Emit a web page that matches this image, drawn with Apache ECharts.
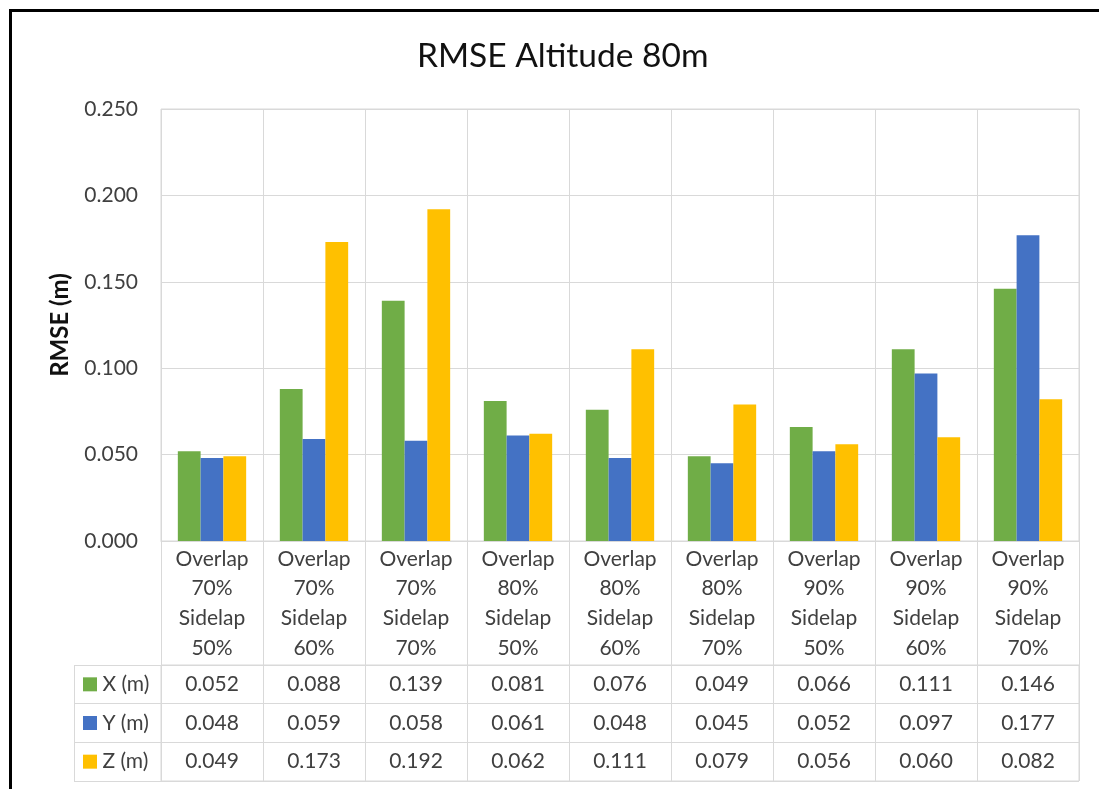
<!DOCTYPE html>
<html>
<head>
<meta charset="utf-8">
<script src="https://cdn.jsdelivr.net/npm/echarts@6/dist/echarts.min.js"></script>
<style>
html,body{margin:0;padding:0;background:#fff;}
#chart{width:1099px;height:789px;}
</style>
</head>
<body>
<div id="chart"></div>
<script>
const categories = [
  'Overlap\n70%\nSidelap\n50%', 'Overlap\n70%\nSidelap\n60%', 'Overlap\n70%\nSidelap\n70%',
  'Overlap\n80%\nSidelap\n50%', 'Overlap\n80%\nSidelap\n60%', 'Overlap\n80%\nSidelap\n70%',
  'Overlap\n90%\nSidelap\n50%', 'Overlap\n90%\nSidelap\n60%', 'Overlap\n90%\nSidelap\n70%'
];
const seriesNames = ['X (m)', 'Y (m)', 'Z (m)'];
const xValues = [0.052, 0.088, 0.139, 0.081, 0.076, 0.049, 0.066, 0.111, 0.146];
const yValues = [0.048, 0.059, 0.058, 0.061, 0.048, 0.045, 0.052, 0.097, 0.177];
const zValues = [0.049, 0.173, 0.192, 0.062, 0.111, 0.079, 0.056, 0.060, 0.082];
const colors = ['#70AD47', '#4472C4', '#FFC000'];
const allValues = [xValues, yValues, zValues];

const FONT = 'Lato';
const GRIDC = '#d9d9d9';
const TXT = '#404040';

const tableData = [];
allValues.forEach((arr, r) => arr.forEach((v, i) => tableData.push([i, r, v])));

const chart = echarts.init(document.getElementById('chart'), null, {renderer: 'canvas'});
chart.setOption({
  backgroundColor: '#fff',
  animation: false,
  title: {
    text: 'RMSE Altitude 80m', left: 412, top: 34,
    textStyle: {fontFamily: FONT, fontSize: 33.5, fontWeight: 'normal', color: '#111'}
  },
  graphic: [
    {type: 'rect', shape: {x: 10.5, y: 10.5, width: 1100, height: 800}, style: {fill: 'none', stroke: '#000', lineWidth: 3}, z: 100},
    {type: 'rect', shape: {x: 74.5, y: 665.5, width: 87, height: 116}, style: {fill: 'none', stroke: GRIDC, lineWidth: 1}, z: 1}
  ],
  grid: [
    {left: 161, top: 109, width: 918, height: 432, show: true, borderColor: GRIDC, borderWidth: 1},
    {left: 161, top: 665, width: 918, height: 116, show: true, borderColor: GRIDC, borderWidth: 1}
  ],
  xAxis: [
    {
      type: 'category', gridIndex: 0, data: categories, boundaryGap: true,
      axisLine: {show: true, lineStyle: {color: GRIDC}},
      axisTick: {show: true, interval: 0, length: 124, lineStyle: {color: GRIDC}},
      splitLine: {show: true, interval: 0, lineStyle: {color: GRIDC}},
      axisLabel: {interval: 0, margin: 3, fontFamily: FONT, fontSize: 21, color: TXT, lineHeight: 29.7}
    },
    {
      type: 'category', gridIndex: 1, data: categories, boundaryGap: true,
      axisLine: {show: false}, axisTick: {show: false}, axisLabel: {show: false},
      splitLine: {show: true, interval: 0, lineStyle: {color: GRIDC}}
    }
  ],
  yAxis: [
    {
      type: 'value', gridIndex: 0, min: 0, max: 0.25, interval: 0.05,
      name: 'RMSE (m)', nameLocation: 'middle', nameGap: 89,
      nameTextStyle: {fontFamily: FONT, fontSize: 24, fontWeight: 'bold', color: '#111'},
      axisLine: {show: false}, axisTick: {show: false},
      splitLine: {lineStyle: {color: GRIDC}},
      axisLabel: {margin: 23, fontFamily: FONT, fontSize: 21, color: TXT, formatter: v => v.toFixed(3)}
    },
    {
      type: 'category', gridIndex: 1, data: seriesNames, inverse: true, boundaryGap: true,
      axisLine: {show: false},
      axisTick: {show: true, interval: 0, length: 87, lineStyle: {color: GRIDC}},
      splitLine: {show: true, interval: 0, lineStyle: {color: GRIDC}},
      axisLabel: {
        margin: 78, align: 'left', fontFamily: FONT, fontSize: 21, color: TXT,
        formatter: (v, i) => '{k' + i + '|}' + ' ' + v,
        rich: {
          k0: {backgroundColor: colors[0], width: 14, height: 14},
          k1: {backgroundColor: colors[1], width: 14, height: 14},
          k2: {backgroundColor: colors[2], width: 14, height: 14}
        }
      }
    }
  ],
  series: [
    ...allValues.map((arr, k) => ({
      name: seriesNames[k], type: 'bar', xAxisIndex: 0, yAxisIndex: 0, data: arr,
      barGap: '0%', barCategoryGap: '33%', itemStyle: {color: colors[k]}
    })),
    {
      type: 'custom', xAxisIndex: 1, yAxisIndex: 1, data: tableData,
      renderItem: (params, api) => {
        const p = api.coord([api.value(0), api.value(1)]);
        return {
          type: 'text', x: p[0], y: p[1],
          style: {text: api.value(2).toFixed(3), align: 'center', verticalAlign: 'middle',
                  font: '21px ' + FONT, fill: TXT}
        };
      }
    }
  ]
});
</script>
</body>
</html>
